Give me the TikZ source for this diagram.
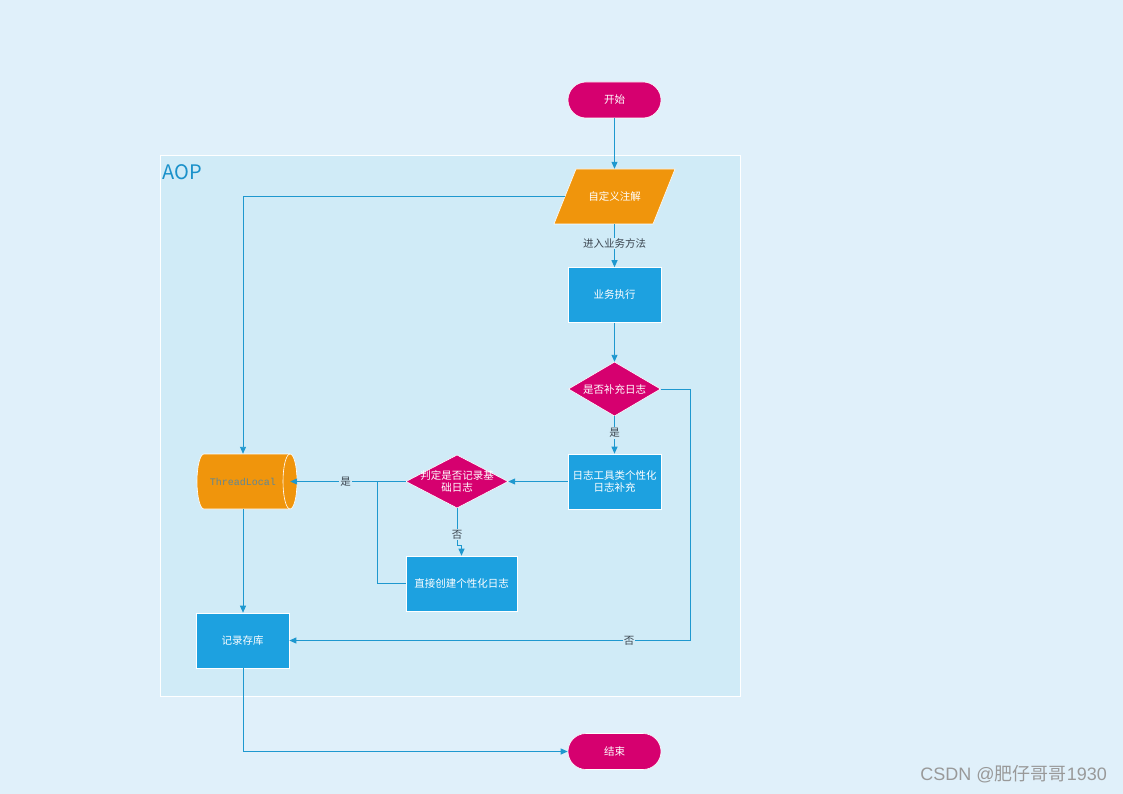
\documentclass[tikz,border=0pt]{standalone}
\usepackage{fontspec}
\setmainfont{Noto Sans CJK SC}
\newfontfamily\monofnt{Liberation Mono}
\newfontfamily\wmfont{Liberation Sans}
\newfontfamily\wmcjk{Noto Sans CJK SC}
\usetikzlibrary{shapes.geometric,arrows.meta}
\definecolor{bgc}{RGB}{224,240,250}
\definecolor{contc}{RGB}{208,235,247}
\definecolor{magc}{RGB}{214,0,111}
\definecolor{orc}{RGB}{240,149,12}
\definecolor{bluec}{RGB}{29,161,224}
\definecolor{linec}{RGB}{30,152,207}
\definecolor{labc}{RGB}{60,70,80}
\definecolor{tlc}{RGB}{95,135,150}
\tikzset{
  every node/.style={font=\fontsize{10.5}{12}\selectfont},
  term/.style={rectangle, rounded corners=18pt, fill=magc, text=white, minimum width=93pt, minimum height=36pt, draw=white, line width=0.6pt},
  proc/.style={rectangle, fill=bluec, text=white, minimum width=93pt, minimum height=55pt, draw=white, line width=0.6pt, align=center, inner sep=2pt},
  decbox/.style={rectangle, text=white, align=center, inner sep=0pt},
  decfill/.style={fill=magc, draw=white, line width=0.6pt},
  conn/.style={draw=linec, line width=0.9pt, -{Triangle[length=7pt,width=6pt]}},
  plain/.style={draw=linec, line width=0.9pt},
  elab/.style={fill=contc, text=labc, inner sep=1pt}
}
\begin{document}
\begin{tikzpicture}[x=1pt,y=-1pt]
\useasboundingbox (0,0) rectangle (1123,794);
\fill[bgc] (0,0) rectangle (1123,794);
\draw[white, line width=1pt, fill=contc] (160,156) rectangle (740,696);
\node[anchor=west, text=bluec!90!black, font=\fontsize{20}{22}\selectfont, inner sep=0pt] (aop) at (162,172) {AOP};

% shapes drawn first
\fill[orc, draw=white, line width=0.6pt] (576,169) -- (675,169) -- (653,224) -- (554,224) -- cycle;
\fill[decfill] (614.5,362) -- (660.5,389) -- (614.5,416) -- (568.5,389) -- cycle;
\fill[decfill] (457,455) -- (508,481.5) -- (457,508) -- (406,481.5) -- cycle;
\fill[orc, draw=white, line width=0.6pt] (204,454) -- (290,454) arc(-90:90:7 and 27.5) -- (204,509) arc(90:270:7 and 27.5) -- cycle;
\draw[white, line width=0.6pt] (290,454) arc(-90:-270:7 and 27.5);

% nodes
\node[term] (start) at (614.5,100) {开始};
\node[rectangle, minimum width=99pt, minimum height=55pt, text=white] (anno) at (614.5,196.5) {自定义注解};
\node[proc] (exec) at (614.5,295) {业务执行};
\node[decbox, minimum width=92pt, minimum height=54pt] (need) at (614.5,389) {是否补充日志};
\node[proc] (tool) at (614.5,481.5) {日志工具类个性化\\日志补充};
\node[decbox, minimum width=102pt, minimum height=53pt] (judge) at (457,481.5) {判定是否记录基\\础日志};
\node[rectangle, minimum width=94pt, minimum height=55pt, inner sep=0pt, text=tlc, font=\monofnt\fontsize{10}{12}\selectfont] (tl) at (243,481.5) {ThreadLocal};
\node[proc, minimum width=111pt] (create) at (461.5,583.5) {直接创建个性化日志};
\node[proc] (store) at (242.5,640.5) {记录存库};
\node[term] (end) at (614.5,751.5) {结束};

% connectors
\draw[conn] (start) -- (anno);
\draw[conn] (anno) -- node[elab, pos=0.45] {进入业务方法} (exec);
\draw[conn] (anno.west) -| (tl.north);
\draw[conn] (exec) -- (need);
\draw[conn] (need) -- node[elab, pos=0.45] {是} (tool);
\coordinate (nr) at (690,389);
\draw[conn] (need.east) -- (nr) |- node[elab, pos=0.576] {否} (store.east);
\draw[conn] (tool.west) -- (judge.east);
\draw[conn] (judge.west) -- node[elab, pos=0.52] {是} (tl.east);
\coordinate (jb) at (457,545);
\draw[plain] (judge.south) -- (jb);
\draw[conn] (jb) -| (create.north);
\path (judge.south) -- node[elab, pos=0.72] {否} (jb);
\coordinate (mj) at (377,481.5);
\draw[plain] (create.west) -| (mj);
\draw[conn] (tl.south) -- (store.north -| tl.south);
\draw[conn] (store.south -| tl.south) |- (end.west);

\node[anchor=east, text=gray!80, font=\fontsize{18}{20}\selectfont, inner sep=0pt] (wm) at (1107,774) {\wmfont CSDN @\wmcjk 肥仔哥哥\wmfont 1930};
\end{tikzpicture}
\end{document}
